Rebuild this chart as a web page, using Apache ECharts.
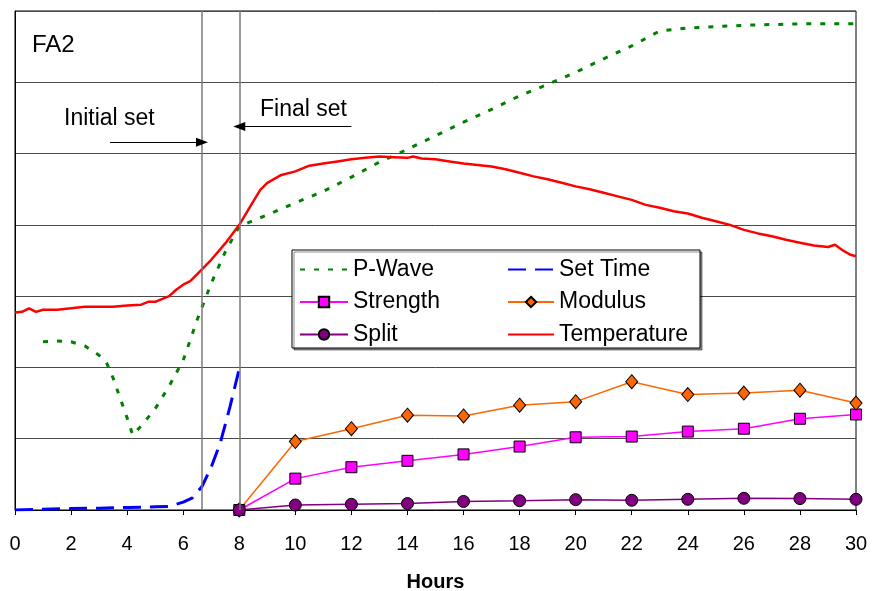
<!DOCTYPE html>
<html>
<head>
<meta charset="utf-8">
<script src="https://cdn.jsdelivr.net/npm/echarts@6/dist/echarts.min.js"></script>
<style>
html,body{margin:0;padding:0;background:#fff;}
#chart{width:872px;height:591px;}
</style>
</head>
<body>
<div id="chart"></div>
<script>
// ---- data ----
const xTicks = [0,2,4,6,8,10,12,14,16,18,20,22,24,26,28,30];

const pwaveHours  = [1,1.5,2,2.5,3,3.25,3.5,4,4.2,4.5,5,5.5,6,6.5,7,7.5,8,9,10,11,12,13,14,15,16,17,18,19,20,21,22,23,24,25,26,27,28,30];
const pwaveValues = [2.36,2.37,2.36,2.30,2.17,2.08,1.85,1.29,1.05,1.18,1.42,1.74,2.10,2.67,3.18,3.62,3.98,4.14,4.31,4.47,4.67,4.88,5.06,5.25,5.44,5.62,5.81,5.97,6.14,6.33,6.51,6.72,6.76,6.78,6.80,6.81,6.82,6.82];

const setHours  = [0,1,2,3,4,5,5.5,6,6.33,6.67,7,7.33,7.67,8];
const setValues = [0,0.01,0.02,0.025,0.035,0.045,0.05,0.11,0.17,0.33,0.6,0.95,1.45,1.98];

const testHours      = [8,10,12,14,16,18,20,22,24,26,28,30];
const strengthValues = [0,0.44,0.60,0.69,0.78,0.89,1.02,1.03,1.10,1.14,1.28,1.34];
const modulusValues  = [0,0.96,1.14,1.33,1.32,1.47,1.52,1.80,1.62,1.64,1.68,1.50];
const splitValues    = [0,0.07,0.08,0.09,0.12,0.13,0.145,0.136,0.15,0.164,0.16,0.15];

const tempHours  = [0,0.25,0.5,0.75,1,1.5,2,2.5,3,3.5,4,4.5,4.75,5,5.5,5.75,6,6.25,6.5,7,7.5,8,8.5,8.75,9,9.5,10,10.5,11,11.5,12,12.5,13,13.5,14,14.2,14.5,15,15.5,16,16.5,17,17.5,18,18.5,19,19.5,20,20.5,21,21.5,22,22.5,23,23.5,24,24.5,25,25.5,26,26.5,27,27.5,28,28.5,29,29.25,29.5,29.8,30];
const tempValues = [2.77,2.78,2.83,2.78,2.81,2.81,2.83,2.85,2.85,2.85,2.87,2.88,2.92,2.92,3.00,3.09,3.16,3.21,3.31,3.51,3.74,4.00,4.33,4.49,4.59,4.70,4.75,4.83,4.86,4.89,4.92,4.94,4.96,4.95,4.94,4.96,4.93,4.92,4.89,4.86,4.84,4.82,4.78,4.73,4.68,4.64,4.59,4.54,4.50,4.45,4.40,4.35,4.28,4.24,4.19,4.16,4.10,4.05,4.00,3.93,3.88,3.84,3.79,3.75,3.71,3.69,3.72,3.65,3.58,3.56];

const initialSetHour = 6.67;
const finalSetHour = 8;
const initialArrow = {from: 3.39, to: 6.67, level: 5.16};
const finalArrow   = {from: 12.0, to: 8.0, level: 5.38};

const zip = (xs, ys) => xs.map((x, i) => [x, ys[i]]);

const chart = echarts.init(document.getElementById('chart'), null, {renderer: 'canvas'});
const FONT = 'Liberation Sans, Arial, sans-serif';
const legendText = {fontSize: 23, color: '#000', fontFamily: FONT, lineHeight: 23, padding: [0,0,0,0]};
const noSym = {opacity: 0};

const option = {
  backgroundColor: '#fff',
  animation: false,
  textStyle: {fontFamily: FONT},
  grid: {left: 15, right: 16, top: 11, bottom: 81, outerBoundsMode: 'none', containLabel: false,
    show: true, borderColor: '#000', borderWidth: 1, backgroundColor: 'transparent'},
  xAxis: {
    type: 'value', min: 0, max: 30, interval: 2,
    axisLine: {lineStyle: {color: '#000', width: 1}},
    axisTick: {show: true, inside: false, length: 5, lineStyle: {color: '#000'}},
    axisLabel: {color: '#000', fontSize: 20, margin: 24, fontFamily: FONT,
      formatter: v => xTicks.includes(v) ? String(v) : ''},
    splitLine: {show: false},
    name: 'Hours', nameLocation: 'middle', nameGap: 62,
    nameTextStyle: {color: '#000', fontSize: 20, fontWeight: 'bold', fontFamily: FONT}
  },
  yAxis: {
    type: 'value', min: 0, max: 7, interval: 1,
    axisLine: {show: true, lineStyle: {color: '#000'}},
    axisTick: {show: false},
    axisLabel: {show: false},
    splitLine: {show: true, lineStyle: {color: '#4a4a4a', width: 1}}
  },
  legend: [
    {
      data: [{name: 'P-Wave', itemStyle: noSym}, 'Strength', 'Split'],
      orient: 'vertical', left: 294, top: 253, itemWidth: 48, itemHeight: 13, itemGap: 9.5,
      selectedMode: false, z: 5, textStyle: legendText
    },
    {
      data: [{name: 'Set Time', itemStyle: noSym}, 'Modulus', {name: 'Temperature', itemStyle: noSym}],
      orient: 'vertical', left: 502, top: 253, itemWidth: 46, itemHeight: 13, itemGap: 9.5,
      selectedMode: false, z: 5, textStyle: legendText
    }
  ],
  graphic: [
    {type: 'rect', z: 3, shape: {x: 292, y: 250, width: 408, height: 98},
      style: {fill: '#fff', stroke: '#000', lineWidth: 1, shadowColor: 'rgba(0,0,0,0.45)', shadowOffsetX: 2, shadowOffsetY: 2, shadowBlur: 0}},
    {type: 'text', z: 5, x: 32, y: 45.5, style: {text: 'FA2', font: '24px ' + FONT, fill: '#000', textVerticalAlign: 'middle', verticalAlign: 'middle'}},
    {type: 'text', z: 5, x: 64, y: 118.3, style: {text: 'Initial set', font: '23px ' + FONT, fill: '#000', textVerticalAlign: 'middle', verticalAlign: 'middle'}},
    {type: 'text', z: 5, x: 260, y: 110, style: {text: 'Final set', font: '23px ' + FONT, fill: '#000', textVerticalAlign: 'middle', verticalAlign: 'middle'}}
  ],
  series: [
    {
      name: 'P-Wave', type: 'line', data: zip(pwaveHours, pwaveValues),
      showSymbol: false, symbol: 'none', smooth: false, z: 2,
      itemStyle: {color: '#008000'},
      lineStyle: {color: '#008000', width: 3, type: [5, 9]}
    },
    {
      name: 'Set Time', type: 'line', data: zip(setHours, setValues),
      showSymbol: false, symbol: 'none', z: 2,
      itemStyle: {color: '#0000FF'},
      lineStyle: {color: '#0000FF', width: 3, type: [18, 9]},
      markLine: {
        silent: true, symbol: ['none', 'none'], animation: false,
        label: {show: false},
        lineStyle: {color: '#7a7a7a', width: 1.5, type: 'solid'},
        data: [{xAxis: initialSetHour}, {xAxis: finalSetHour}]
      }
    },
    {
      name: 'Strength', type: 'line', data: zip(testHours, strengthValues),
      symbol: 'rect', symbolSize: 11, z: 3,
      itemStyle: {color: '#FF00FF', borderColor: '#000', borderWidth: 1},
      lineStyle: {color: '#FF00FF', width: 1.5}
    },
    {
      name: 'Modulus', type: 'line', data: zip(testHours, modulusValues),
      symbol: 'diamond', symbolSize: [12, 14], z: 3,
      itemStyle: {color: '#FF6600', borderColor: '#000', borderWidth: 1},
      lineStyle: {color: '#FF6600', width: 1.5}
    },
    {
      name: 'Split', type: 'line', data: zip(testHours, splitValues),
      symbol: 'circle', symbolSize: 12, z: 3,
      itemStyle: {color: '#800080', borderColor: '#000', borderWidth: 1},
      lineStyle: {color: '#800080', width: 1.5}
    },
    {
      name: 'Temperature', type: 'line', data: zip(tempHours, tempValues),
      showSymbol: false, symbol: 'none', z: 2,
      itemStyle: {color: '#FF0000'},
      lineStyle: {color: '#FF0000', width: 2.5},
      markLine: {
        silent: true, animation: false,
        symbol: ['none', 'triangle'], symbolSize: [9, 12],
        label: {show: false},
        lineStyle: {color: '#000', width: 1, type: 'solid'},
        data: [
          [{coord: [initialArrow.from, initialArrow.level]}, {coord: [initialArrow.to, initialArrow.level]}],
          [{coord: [finalArrow.from, finalArrow.level]}, {coord: [finalArrow.to, finalArrow.level]}]
        ]
      }
    }
  ]
};
chart.setOption(option);
</script>
</body>
</html>
